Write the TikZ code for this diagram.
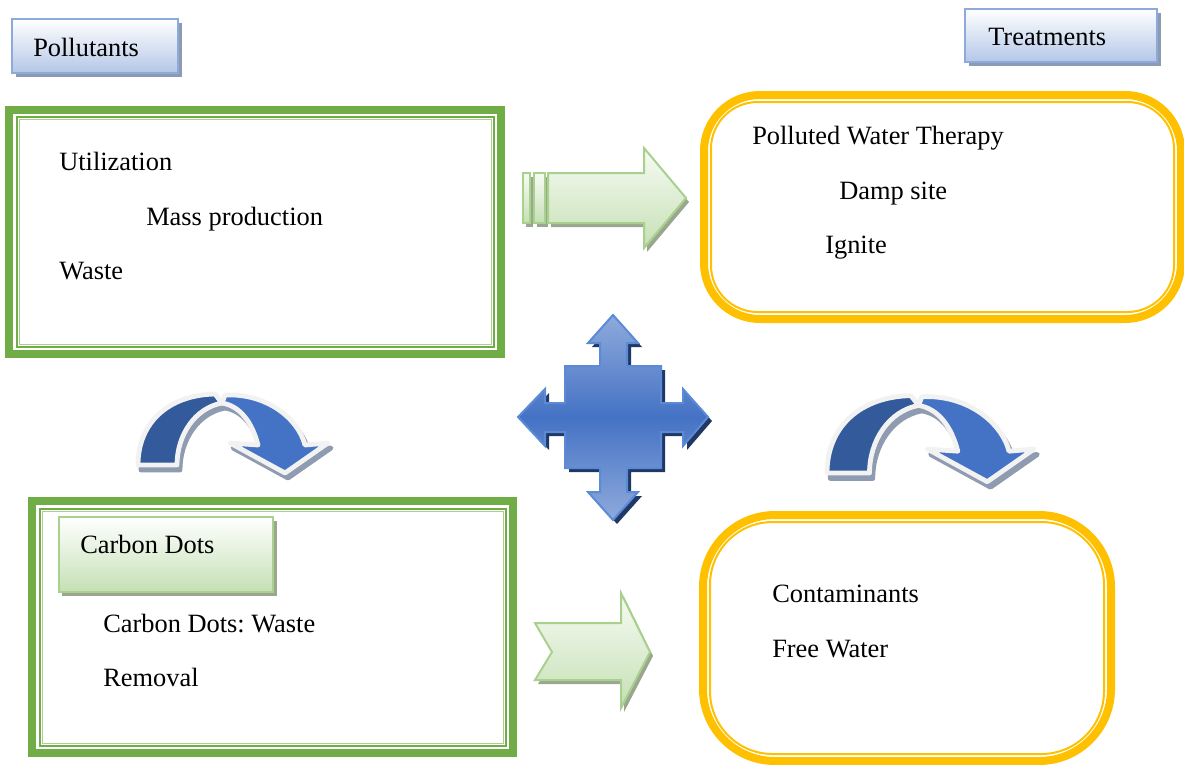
\documentclass[tikz,border=0pt]{standalone}
\usepackage{fontspec}
\setmainfont{Liberation Serif}
\frenchspacing
\definecolor{gframe}{HTML}{70AD47}
\definecolor{gline}{HTML}{A9D18E}
\definecolor{gfill}{HTML}{C5E0B4}
\definecolor{gtop}{HTML}{F7FBF4}
\definecolor{gshadow}{HTML}{9AA68F}
\definecolor{oframe}{HTML}{FFC000}
\definecolor{bframe}{HTML}{8EAADB}
\definecolor{bfill}{HTML}{B4C7E7}
\definecolor{bshadow}{HTML}{8C9BB3}
\definecolor{crossmid}{HTML}{4472C4}
\definecolor{crosslight}{HTML}{8FAADC}
\definecolor{crossedge}{HTML}{5B8AD6}
\definecolor{crossshadow}{HTML}{203864}
\definecolor{frontblue}{HTML}{4472C4}
\definecolor{backblue}{HTML}{335A9A}
\definecolor{arcshadow}{HTML}{8E9BB0}
\definecolor{rim}{HTML}{F2F2F2}

\tikzset{
  txt/.style={anchor=base west, inner sep=0pt, font=\fontsize{19.8}{23}\selectfont},
  bluetag/.style={draw=bframe, line width=1.5pt, top color=white, bottom color=bfill},
  greentag/.style={draw=gline, line width=1.5pt, top color=white, bottom color=gfill},
  greenarrow/.style={draw=gline, line width=1.5pt, top color=gtop, bottom color=gfill, line join=miter},
  gband/.style={draw=gframe, line width=6pt},
  ginner/.style={draw=gframe, line width=1.5pt},
  ginner2/.style={draw=gline, line width=0.6pt},
  oband/.style={draw=oframe, line width=6pt},
  oinner/.style={draw=oframe, line width=1.5pt},
  arcbody/.style={draw=rim, line width=3.6pt, line join=round},
  arcshade/.style={fill=arcshadow, draw=arcshadow, line width=3.6pt, line join=round},
  curvearrow/.pic={
    % drop shadow under both parts of the curved arrow
    \begin{scope}[shift={(3,5)}]
      \path[arcshade] (0,0) .. controls (0,-42) and (30,-70) .. (77,-71) -- (84,-62)
        .. controls (57,-57) and (39,-30) .. (39,0) -- cycle;
      \path[arcshade] (87,-70) .. controls (128,-72) and (160,-47) .. (167,-20)
        -- (190,-22) -- (147,8) -- (92,-22) -- (120,-20)
        .. controls (114,-43) and (102,-59) .. (84,-62) -- cycle;
    \end{scope}
    % rear band
    \path[arcbody, fill=backblue] (0,0) .. controls (0,-42) and (30,-70) .. (77,-71) -- (84,-62)
      .. controls (57,-57) and (39,-30) .. (39,0) -- cycle;
    % front band with head
    \path[arcbody, fill=frontblue] (87,-70) .. controls (128,-72) and (160,-47) .. (167,-20)
      -- (190,-22) -- (147,8) -- (92,-22) -- (120,-20)
      .. controls (114,-43) and (102,-59) .. (84,-62) -- cycle;
  }
}

\begin{document}
\begin{tikzpicture}[x=0.75pt, y=-0.75pt]
\useasboundingbox (0,0) rectangle (1184,764);
\clip (0,0) rectangle (1184,764);

% ---- heading tags ----
\fill[bshadow] (16,23) rectangle (182,77);
\path[bluetag] (12,19) rectangle (178,73);
\node[txt] (pollutants) at (33,56) {Pollutants};

\fill[bshadow] (969,13) rectangle (1161,66);
\path[bluetag] (965,9) rectangle (1157,62);
\node[txt] (treatments) at (988,45) {Treatments};

% ---- pollutant sources (green frame) ----
\path[gband] (9,110) rectangle (501,354);
\path[ginner] (16.5,117) rectangle (493.5,346.5);
\path[ginner2] (19,119.5) rectangle (491,344);
\node[txt] (util) at (59,170) {Utilization};
\node[txt] (mass) at (146,225) {Mass production};
\node[txt] (waste) at (59,279) {Waste};

% ---- treatments (orange rounded frame) ----
\path[oband, rounded corners=42] (704,95) rectangle (1181,319);
\path[oinner, rounded corners=35] (711,102) rectangle (1174,312);
\node[txt] (therapy) at (752,144) {Polluted Water Therapy};
\node[txt] (damp) at (839,199) {Damp site};
\node[txt] (ignite) at (825,253) {Ignite};

% ---- carbon dots (green frame) ----
\path[gband] (32,501) rectangle (513,753);
\path[ginner] (39.5,509) rectangle (505.5,745.5);
\path[ginner2] (42,511.5) rectangle (503,743);
\fill[gshadow] (62,521) rectangle (277,596);
\path[greentag] (59,517) rectangle (273,592);
\node[txt] (cdtag) at (80,553) {Carbon Dots};
\node[txt] (cdwaste) at (103,632) {Carbon Dots: Waste};
\node[txt] (removal) at (103,686) {Removal};

% ---- result (orange rounded frame) ----
\path[oband, rounded corners=54] (703,515) rectangle (1111,761);
\path[oinner, rounded corners=47] (710,522) rectangle (1104,754);
\node[txt] (contam) at (772,602) {Contaminants};
\node[txt] (free) at (772,657) {Free Water};

% ---- striped block arrow (top) ----
\begin{scope}[shift={(3,4)}]
  \fill[gshadow] (523,173) rectangle (530,223);
  \fill[gshadow] (534,173) rectangle (545,223);
  \fill[gshadow] (548,173) -- (644,173) -- (644,148) -- (686,198) -- (644,248) -- (644,223) -- (548,223) -- cycle;
\end{scope}
\path[greenarrow] (523,173) rectangle (530,223);
\path[greenarrow] (534,173) rectangle (545,223);
\path[greenarrow] (548,173) -- (644,173) -- (644,148) -- (686,198) -- (644,248) -- (644,223) -- (548,223) -- cycle;

% ---- notched block arrow (bottom) ----
\fill[gshadow, shift={(3,4)}] (535,623) -- (621,623) -- (621,593) -- (650,652) -- (621,708) -- (621,680) -- (535,680) -- (552,652) -- cycle;
\path[greenarrow] (535,623) -- (621,623) -- (621,593) -- (650,652) -- (621,708) -- (621,680) -- (535,680) -- (552,652) -- cycle;

% ---- four-way arrow ----
\fill[crossshadow, shift={(4,4)}]
  (613,315) -- (638,343) -- (627,343) -- (627,366) -- (661,366) -- (661,403) -- (683,403) -- (683,389)
  -- (708,417) -- (683,446) -- (683,432) -- (661,432) -- (661,468) -- (627,468) -- (627,492) -- (638,492)
  -- (613,520) -- (588,492) -- (600,492) -- (600,468) -- (565,468) -- (565,432) -- (545,432) -- (545,446)
  -- (518,417) -- (545,389) -- (545,403) -- (565,403) -- (565,366) -- (600,366) -- (600,343) -- (588,343) -- cycle;
\path[draw=crossedge, line width=1.5pt, top color=crosslight, bottom color=crosslight, middle color=crossmid]
  (613,315) -- (638,343) -- (627,343) -- (627,366) -- (661,366) -- (661,403) -- (683,403) -- (683,389)
  -- (708,417) -- (683,446) -- (683,432) -- (661,432) -- (661,468) -- (627,468) -- (627,492) -- (638,492)
  -- (613,520) -- (588,492) -- (600,492) -- (600,468) -- (565,468) -- (565,432) -- (545,432) -- (545,446)
  -- (518,417) -- (545,389) -- (545,403) -- (565,403) -- (565,366) -- (600,366) -- (600,343) -- (588,343) -- cycle;

% ---- curved arrows ----
\pic at (138,465) {curvearrow};
\pic[scale=1.09] at (827,473) {curvearrow};

\end{tikzpicture}
\end{document}
